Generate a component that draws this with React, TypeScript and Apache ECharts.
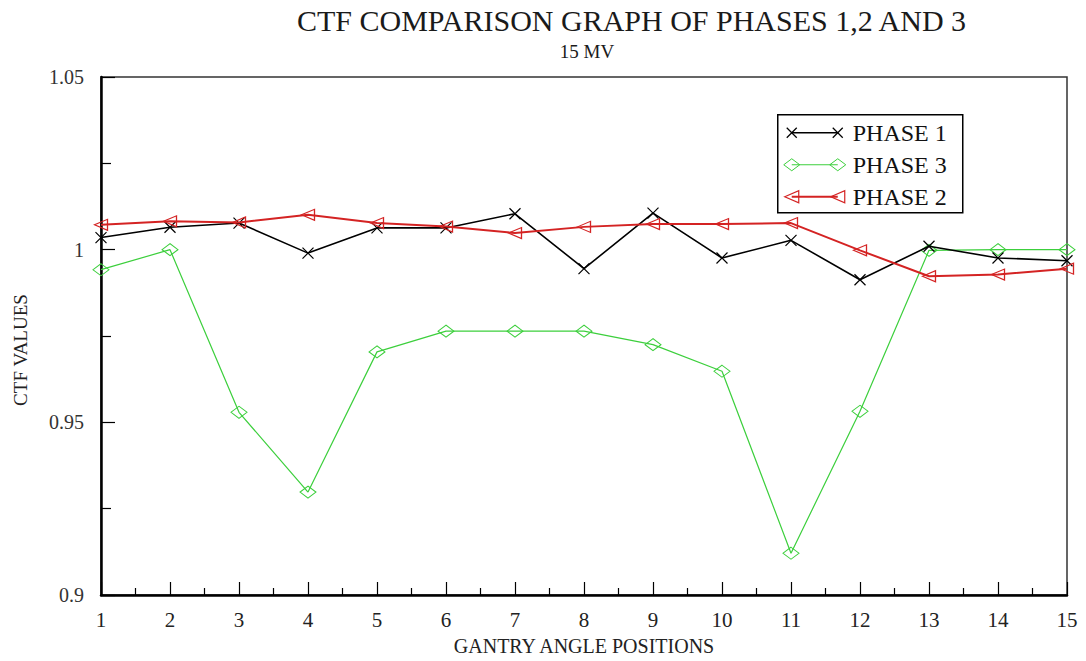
import React, { useEffect, useRef } from "react";
import * as echarts from "echarts";

// ---- Data ----
const positions = [1, 2, 3, 4, 5, 6, 7, 8, 9, 10, 11, 12, 13, 14, 15];
const phase1 = [1.0035, 1.0065, 1.0077, 0.999, 1.0063, 1.0063, 1.0104, 0.9945, 1.0106, 0.9976, 1.0027, 0.9913, 1.001, 0.9976, 0.9968];
const phase2 = [1.0072, 1.0082, 1.0079, 1.0101, 1.0077, 1.0067, 1.0048, 1.0066, 1.0074, 1.0074, 1.0077, 0.9998, 0.9923, 0.9928, 0.9945];
const phase3 = [0.9942, 1.0, 0.9529, 0.9298, 0.9704, 0.9764, 0.9764, 0.9764, 0.9725, 0.9648, 0.9121, 0.9532, 0.9998, 1.0, 1.0];

const legendOrder = ["PHASE 1", "PHASE 3", "PHASE 2"];
const titleText = "CTF COMPARISON GRAPH OF PHASES 1,2 AND 3";
const subtitleText = "15 MV";
const xAxisName = "GANTRY ANGLE POSITIONS";
const yAxisName = "CTF VALUES";

const yMin = 0.9;
const yMax = 1.05;
const yInterval = 0.05;
const xMin = 1;
const xMax = 15;

const FONT = "'Liberation Serif', 'Times New Roman', serif";
const BLACK = "#000000";
const RED = "#d42323";
const GREEN = "#3ccf3c";

const colors: Record<string, string> = {
  "PHASE 1": BLACK,
  "PHASE 2": RED,
  "PHASE 3": GREEN,
};

function legendMarker(name: string, cx: number, cy: number): any[] {
  const c = colors[name];
  if (name === "PHASE 1") {
    return [
      { type: "line", shape: { x1: cx - 5, y1: cy - 5, x2: cx + 5, y2: cy + 5 }, style: { stroke: c, lineWidth: 1.2 } },
      { type: "line", shape: { x1: cx - 5, y1: cy + 5, x2: cx + 5, y2: cy - 5 }, style: { stroke: c, lineWidth: 1.2 } },
    ];
  }
  if (name === "PHASE 3") {
    return [
      {
        type: "polygon",
        shape: { points: [[cx - 8, cy], [cx, cy - 6], [cx + 8, cy], [cx, cy + 6]] },
        style: { fill: "none", stroke: c, lineWidth: 1 },
      },
    ];
  }
  return [
    {
      type: "polygon",
      shape: { points: [[cx - 7, cy], [cx + 7, cy - 6], [cx + 7, cy + 6]] },
      style: { fill: "none", stroke: c, lineWidth: 1.2 },
    },
  ];
}

function buildLegend(): any {
  const children: any[] = [
    {
      type: "rect",
      shape: { x: 0, y: 0, width: 185, height: 98 },
      style: { fill: "#ffffff", stroke: "#000000", lineWidth: 1.5 },
    },
  ];
  legendOrder.forEach((name, i) => {
    const cy = 18 + i * 32;
    const c = colors[name];
    children.push({
      type: "line",
      shape: { x1: 14, y1: cy, x2: 60, y2: cy },
      style: { stroke: c, lineWidth: name === "PHASE 2" ? 2.2 : name === "PHASE 1" ? 1.6 : 1.2 },
    });
    children.push(...legendMarker(name, 14, cy));
    children.push(...legendMarker(name, 60, cy));
    children.push({
      type: "text",
      x: 75,
      y: cy,
      style: { text: name, font: `24px ${FONT}`, fill: "#111", verticalAlign: "middle", align: "left" },
    });
  });
  return { type: "group", left: 777, top: 114, z: 100, children };
}

export default function App() {
  const ref = useRef<HTMLDivElement>(null);

  useEffect(() => {
    if (!ref.current) return;
    const chart = echarts.init(ref.current, undefined, { renderer: "svg" });

    const toPairs = (vals: number[]) => positions.map((x, i) => [x, vals[i]]);

    const option: any = {
      animation: false,
      backgroundColor: "#ffffff",
      grid: {
        left: 101,
        right: 19,
        top: 77,
        bottom: 52,
        show: true,
        borderColor: "#333",
        borderWidth: 1.5,
        backgroundColor: "transparent",
      },
      xAxis: {
        type: "value",
        min: xMin,
        max: xMax,
        interval: 1,
        name: xAxisName,
        nameLocation: "middle",
        nameGap: 41,
        nameTextStyle: { fontFamily: FONT, fontSize: 20, color: "#222" },
        axisLine: { show: true, lineStyle: { color: BLACK, width: 2.5 } },
        axisTick: { show: true, inside: true, length: 13, lineStyle: { color: BLACK, width: 1.2 } },
        minorTick: { show: true, splitNumber: 2, length: 7, lineStyle: { color: BLACK, width: 1.2 } },
        splitLine: { show: false },
        axisLabel: { margin: 14, fontFamily: FONT, fontSize: 21, color: "#222" },
      },
      yAxis: {
        type: "value",
        min: yMin,
        max: yMax,
        interval: yInterval,
        axisLine: { show: true, lineStyle: { color: BLACK, width: 2.5 } },
        axisTick: { show: true, inside: true, length: 14, lineStyle: { color: BLACK, width: 1.2 } },
        minorTick: { show: true, splitNumber: 2, length: 10, lineStyle: { color: BLACK, width: 1.2 } },
        splitLine: { show: false },
        axisLabel: { margin: 17, fontFamily: FONT, fontSize: 20, color: "#333" },
      },
      series: [
        {
          name: "PHASE 3",
          type: "line",
          data: toPairs(phase3),
          symbol: "diamond",
          symbolSize: [16, 12],
          lineStyle: { color: GREEN, width: 1.2 },
          itemStyle: { color: "rgba(0,0,0,0)", borderColor: GREEN, borderWidth: 1 },
          z: 2,
        },
        {
          name: "PHASE 1",
          type: "line",
          data: toPairs(phase1),
          symbol: "path://M0,0L10,10M10,0L0,10",
          symbolSize: 11,
          lineStyle: { color: BLACK, width: 1.6 },
          itemStyle: { color: BLACK, borderColor: BLACK, borderWidth: 1.2 },
          z: 3,
        },
        {
          name: "PHASE 2",
          type: "line",
          data: toPairs(phase2),
          symbol: "triangle",
          symbolRotate: 90,
          symbolSize: [11, 13],
          lineStyle: { color: RED, width: 2 },
          itemStyle: { color: "rgba(0,0,0,0)", borderColor: RED, borderWidth: 1.2 },
          z: 4,
        },
      ],
      graphic: [
        {
          type: "text",
          left: 297,
          top: 5,
          style: { text: titleText, font: `30px ${FONT}`, fill: "#1a1a1a" },
        },
        {
          type: "text",
          x: 587,
          y: 51,
          style: { text: subtitleText, font: `19px ${FONT}`, fill: "#1a1a1a", align: "center", verticalAlign: "middle" },
        },
        {
          type: "text",
          x: 20,
          y: 350,
          rotation: Math.PI / 2,
          style: { text: yAxisName, font: `19px ${FONT}`, fill: "#222", align: "center", verticalAlign: "middle" },
        },
        buildLegend(),
      ],
    };

    chart.setOption(option);
    return () => {
      chart.dispose();
    };
  }, []);

  return <div ref={ref} style={{ position: "fixed", left: 0, top: 0, width: 1086, height: 661 }} />;
}
